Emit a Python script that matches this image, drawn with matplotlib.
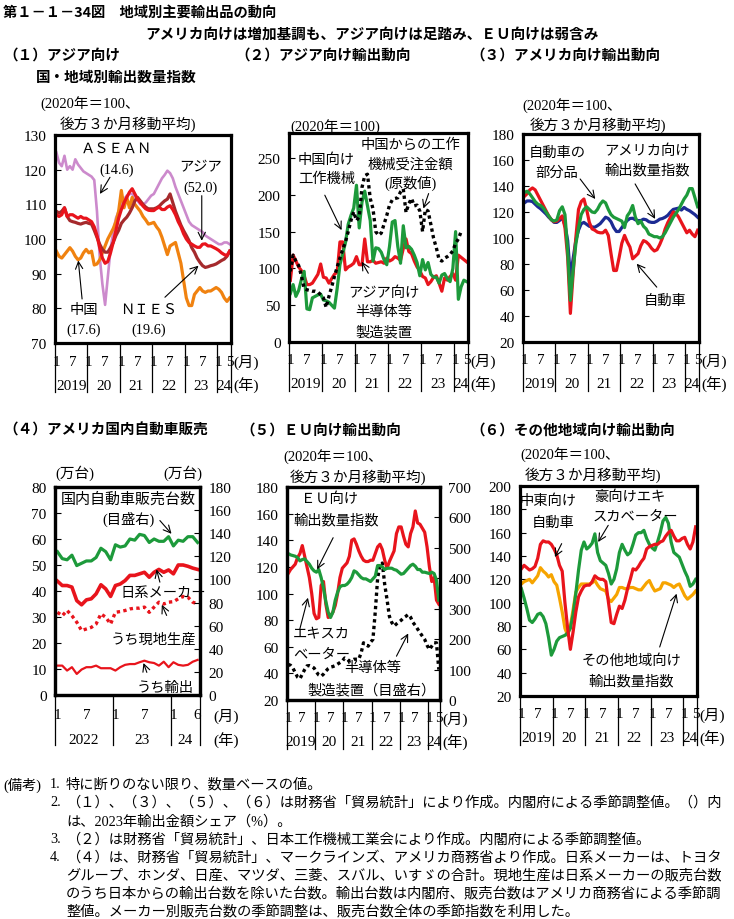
import numpy as np
import matplotlib
matplotlib.use("Agg")
import matplotlib.pyplot as plt
from matplotlib.transforms import blended_transform_factory

# ---------------- data ----------------
# monthly, Jan 2019 .. May 2024 (65 points)
months = np.arange(65)

# (1) Asia by country/region, 2020=100, 3m moving average
asean = [125, 122, 121, 124, 120, 121, 120, 123, 121.5, 120.5, 119.5, 119, 118.5, 118, 117, 108, 95, 87, 81, 89,
         97, 102, 106, 108, 110, 111.5, 112.5, 113, 113, 112, 111, 110, 110, 110.5, 111.5, 112.5, 113, 114.5, 116, 117.5,
         118.5, 119.7, 119, 117.5, 115, 113, 111, 109, 107, 105, 104, 103.5, 103, 102.5, 102, 101, 100.5, 100, 99.5, 99,
         98.5, 98.5, 99, 99, 98.5]
china = [96.5, 95, 94.5, 95.5, 96.5, 97.5, 96.5, 95, 94, 94.5, 96, 97, 96, 96.5, 92.5, 92.8, 94, 96, 98, 100,
         101.5, 103, 105, 108, 114, 109, 112, 109, 112, 110, 109, 108, 106.5, 105.5, 104.3, 104.5, 104.8, 103.5, 102.5, 100.5,
         98, 95.5, 98, 98.5, 99, 96, 93, 88, 83, 80.8, 80.8, 84, 85, 86, 85, 84.6, 85, 85, 85.5, 86,
         85.5, 84.6, 83, 82, 83]
asia = [107, 106.5, 107, 109, 106.5, 107, 107, 106.5, 106, 106.5, 106, 106, 105.5, 105, 103.5, 101, 97.5, 94.5, 93, 93.5,
        96, 99, 102.5, 106, 108.5, 110.5, 112, 113.5, 114.5, 113, 111.5, 110.5, 109.5, 108.7, 108.3, 108.2, 108.2, 108.8, 109.2, 108.5,
        108.5, 109.2, 109.6, 108.5, 107, 105, 103.5, 101.5, 100, 99, 98.5, 98, 97.6, 97.6, 98.5, 98.6, 98, 98, 97.6, 97.2,
        96.7, 96, 95.5, 95.2, 96.5]
nies = [108, 107.5, 108, 109, 106.5, 105.3, 105, 104.8, 104.5, 104.3, 104.6, 104.8, 104.5, 104.3, 102.5, 100.5, 98.5, 97, 96.2, 96.2,
        97.5, 99, 101, 102.5, 104.5, 105.5, 106.3, 107.5, 109, 111, 112, 111, 110, 109.2, 108.7, 108.7, 108.7, 109, 109.5, 110.3,
        111, 111.5, 113, 110.5, 108, 106, 104, 102.4, 101, 99.5, 97.5, 96.2, 94.5, 93.3, 92.3, 91.8, 92, 92.3, 92.5, 92.8,
        93.3, 93.8, 94.2, 95, 96.5]

# (2) exports to Asia, 2020=100
semi_asia = [84, 118, 110, 102, 97, 90, 78, 78, 80, 86, 92, 106, 88, 87, 80, 86, 92, 95, 136, 136,
             98, 102, 104, 107, 116, 105, 105, 140, 109, 109, 111, 107, 108, 109, 107, 114, 110, 112, 116, 114,
             111, 127, 140, 123, 120, 110, 102, 97, 89, 87, 78, 82, 88, 90, 80, 69, 87, 84, 89, 93,
             84, 118, 115, 112, 109]
tools_cn = [66, 78, 62, 70, 85, 96, 45, 44, 60, 62, 64, 65, 57, 56, 54, 50, 46, 73, 105, 120,
            135, 160, 172, 182, 213, 155, 190, 205, 185, 165, 110, 128, 127, 122, 112, 105, 130, 163, 165, 130,
            107, 158, 128, 130, 126, 118, 108, 90, 112, 98, 108, 92, 88, 88, 80, 91, 93, 86, 82, 100,
            150, 58, 75, 84, 82]
orders_cn = [96, 118, 110, 104, 90, 73, 71, 70, 69, 69, 68, 64, 60, 47, 62, 75, 89, 102, 114, 126,
             136, 150, 165, 177, 165, 170, 210, 226, 228, 195, 181, 150, 145, 148, 160, 172, 186, 193, 195, 196,
             204, 208, 176, 188, 195, 185, 186, 178, 150, 180, 178, 160, 141, 128, 112, 110, 114, 116, 119, 124,
             134, 140, 150]

# (3) exports to the US, 2020=100, 3m moving average
us_total = [127, 128.5, 128.5, 128, 126, 124, 122.5, 120.5, 118.5, 116, 114, 112, 112, 113.5, 115.5, 110, 98, 70, 84, 98,
            106, 111, 112, 110.5, 109, 108.5, 108.3, 109.5, 111, 113.5, 116, 115, 112.5, 108, 105, 105, 108, 111, 113.5, 115,
            115.2, 114, 113.4, 113.4, 114.5, 114, 112.5, 112, 112, 113, 114.5, 115, 116, 117.5, 120, 122, 122.5, 123, 121.5, 123.5,
            122, 121, 119.5, 118, 116]
us_cars = [132, 134, 137, 138.5, 137, 133, 129, 125, 121, 117, 114, 112.5, 113, 115, 117, 108, 85, 42, 72, 100,
           122, 128, 130, 122, 112, 107, 106, 104.5, 104, 104, 106, 102, 88, 75, 75, 85, 96, 102, 97, 93,
           84, 86, 88, 94, 98, 97, 95, 92, 90, 91, 95, 100, 107, 112, 116, 120, 119, 116, 112, 108,
           104, 106, 103, 101, 106]
us_parts = [135, 136, 134, 131, 128, 126, 125, 123, 120, 117, 114, 113, 114, 121, 124, 118, 90, 52, 75, 95,
            108, 118, 122, 124, 122, 120, 119.5, 122, 126, 128.5, 127, 122, 118, 116, 115, 114, 113, 108, 117, 120,
            125, 116, 111, 113, 109, 107, 103, 102, 101, 101, 100, 101, 104, 108, 112, 116, 119, 122, 126, 130,
            133, 138, 138, 131, 124]

# (4) US domestic auto sales, Jan 2022 .. Jun 2024 (30 points), 10k units
months4 = np.arange(30)
sales_total = [124, 118, 117, 121, 112, 114, 116, 116, 119, 127, 124, 117, 130, 128, 129, 135, 134, 139, 138, 132,
               135, 133, 133, 137, 129, 134, 133, 137, 137, 132]
jp_makers = [43.8, 42.1, 42.1, 41.5, 36.3, 34.7, 36.6, 37, 38.9, 42.4, 40.8, 37.9, 42.1, 42.7, 44, 46, 46, 46.6, 47.2, 45.3,
             47.2, 48.3, 47.2, 48.1, 46.6, 50, 50, 49.5, 48.8, 48.3]
jp_local = [31.8, 30.5, 32.5, 30.5, 28, 24.8, 25.4, 26, 27.3, 31.2, 29.9, 27.3, 31.8, 32.1, 32.5, 33.1, 33.4, 33.4, 33.8, 31.8,
            33.8, 35.7, 35, 35.7, 35.9, 37, 37.9, 37.6, 35.7, 35]
jp_export = [11.3, 11.3, 9.4, 10.7, 8.1, 9.8, 10.7, 10.7, 11.3, 10.3, 10.3, 10.3, 9.4, 10.7, 11.6, 11.9, 11.9, 12.6, 13.2, 12.6,
             12.3, 11.3, 12.8, 10.7, 12.6, 11.6, 11.3, 11.6, 12.8, 13.5]

# (5) exports to the EU, 2020=100, 3m moving average
eu_total = [130, 129, 128.5, 128, 127, 124.5, 125.5, 126, 124, 122, 119, 117, 116, 118, 112, 104, 94, 86, 82, 86,
            95, 101, 105, 106, 106, 107, 109, 112, 117, 116, 114, 112, 111, 111, 110, 109, 111, 113, 121, 121,
            120, 118, 119, 119, 119, 118, 117.5, 116, 114.5, 115, 117, 119, 121, 122, 120.5, 118, 118, 116, 116, 115.5,
            115, 116, 115, 110, 95]
eu_excav = [115, 118, 120, 122, 127, 130, 136, 128, 120, 112, 100, 85, 81, 82, 106, 109, 92, 82, 83, 86,
            91, 100, 112, 119, 121, 123, 128, 140, 141, 137, 132, 128, 125, 124, 124, 125, 125, 130, 135, 137,
            133, 125, 119, 124, 128, 132, 145, 150, 150, 143, 137, 135, 145, 150, 162, 153, 152, 149, 146, 135,
            120, 109, 112, 95, 92]
eu_semi = [117, 114, 105, 90, 75, 70, 85, 100, 112, 113, 110, 105, 92, 82, 78, 85, 95, 103, 108, 110,
           113, 118, 123, 128, 138, 135, 128, 130, 134, 134, 134, 155, 188, 182, 177, 190, 199, 290, 400, 445,
           450, 380, 330, 275, 255, 243, 250, 256, 262, 270, 275, 281, 272, 255, 245, 233, 221, 210, 199, 180,
           166, 177, 188, 188, 100]

# (6) exports to other regions, 2020=100, 3m moving average
me_cars = [129, 132, 130, 128, 129, 131, 138, 150, 153, 152, 152, 150, 146, 141, 132, 127, 100, 78, 60, 75,
           92, 105, 110, 114, 115, 115, 118, 123, 121, 120, 120, 118, 100, 83, 82, 90, 97, 95, 102, 112,
           120, 129, 128, 131, 135, 138, 146, 148, 149, 150, 150, 152, 153, 157, 160, 162, 157, 153, 153, 155,
           156, 150, 146, 152, 165]
au_excav = [112, 104, 95, 85, 83, 86, 90, 91, 88, 82, 70, 55, 60, 67, 70, 71, 72, 74, 78, 90,
            108, 128, 145, 152, 146, 148, 151, 159, 143, 136, 134, 132, 125, 116, 120, 129, 143, 150, 145, 141,
            143, 150, 158, 160, 160, 162, 155, 150, 147, 145, 152, 160, 170, 173, 168, 152, 143, 141, 139, 133,
            127, 122, 114, 116, 120]
other_total = [116, 118, 119, 120, 117, 120, 123, 130, 127, 125, 122, 124, 118, 115, 104, 92, 78, 72, 80, 94,
               109, 113, 116, 116, 116, 116, 117, 119, 115, 112, 111, 110, 103, 101, 104, 107, 113, 113, 112, 112,
               113, 113, 112, 111, 111, 114, 117, 119, 114, 110, 111, 112, 117, 117, 116, 115, 113, 115, 116, 111,
               106, 103, 105, 107, 110]

# x-axis labels
seps5 = [-0.5, 11.5, 23.5, 35.5, 47.5, 59.5, 64.5]
mlab5 = [(0, '1'), (6, '7'), (12, '1'), (18, '7'), (24, '1'), (30, '7'), (36, '1'), (42, '7'),
         (48, '1'), (54, '7'), (60, '1'), (64, '5')]
ylab5 = [(5.5, '2019'), (17.5, '20'), (29.5, '21'), (41.5, '22'), (53.5, '23'), (62, '24')]
seps4 = [-0.5, 11.5, 23.5, 29.5]
mlab4 = [(0, '1'), (6, '7'), (12, '1'), (18, '7'), (24, '1'), (29, '6')]
ylab4 = [(5.5, '2022'), (17.5, '23'), (26.5, '24')]

# ---------------- style ----------------
plt.rcParams['font.family'] = ['Liberation Serif', 'Noto Sans CJK JP']
GOTH = ['Noto Sans CJK JP', 'DejaVu Sans']
MIN = ['Liberation Serif', 'Noto Sans CJK JP']

RED = '#e8141c'
GREEN = '#1d9a3b'
BLUE = '#1c2b93'
ORANGE = '#f08210'
YELLOW = '#f6a400'
PLUM = '#cc8acc'
BROWN = '#a52a2c'
LW = 2.3
TS = 11      # tick / axis label size

W, H = 734, 920
fig = plt.figure(figsize=(W / 100, H / 100), dpi=100)


def ftext(x, y, s, size=10, family=MIN, **kw):
    fig.text(x / W, 1 - y / H, s, fontsize=size, family=family, va='center', **kw)


def panel(box, ylim, yticks):
    l, t, r, b = box
    ax = fig.add_axes([l / W, 1 - b / H, (r - l) / W, (b - t) / H])
    ax.set_ylim(*ylim)
    ax.set_yticks(yticks)
    ax.set_xticks([])
    for sp in ax.spines.values():
        sp.set_linewidth(2.3)
    ax.tick_params(axis='y', direction='in', length=4, width=0.8, labelsize=TS, pad=6)
    return ax


def time_axis(ax, box, xmax, seps, mlabels, ylabels, mdy=18, ydy=42, depth=49, uoff=2):
    l, t, r, b = box
    h = b - t
    ax.set_xlim(-0.5, xmax + 0.5)
    tr = blended_transform_factory(ax.transData, ax.transAxes)
    for s in seps:
        ax.plot([s, s], [0, -depth / h], transform=tr, color='k', lw=0.9, clip_on=False)
    for x, s in mlabels:
        ax.text(x, -mdy / h, s, transform=tr, ha='center', va='center', fontsize=TS)
    for x, s in ylabels:
        ax.text(x, -ydy / h, s, transform=tr, ha='center', va='center', fontsize=TS)
    ax.text(1 + uoff / (r - l), -mdy / h, '(月)', transform=ax.transAxes, ha='left', va='center', fontsize=TS)
    ax.text(1 + uoff / (r - l), -ydy / h, '(年)', transform=ax.transAxes, ha='left', va='center', fontsize=TS)


def label(ax, x, y, s, size=10.3, **kw):
    ax.text(x, y, s, ha='center', va='center', fontsize=size, family=MIN, **kw)


def arrow(ax, tail, head):
    ax.annotate('', xy=head, xytext=tail,
                arrowprops=dict(arrowstyle='->', color='k', lw=0.8, shrinkA=0, shrinkB=0, mutation_scale=13))


# ---------------- titles ----------------
ftext(3, 13, '第１－１－34図　地域別主要輸出品の動向', size=10.3, family=GOTH, weight='bold')
ftext(372, 34, 'アメリカ向けは増加基調も、アジア向けは足踏み、ＥＵ向けは弱含み', size=10.5, family=GOTH,
      weight='bold', ha='center')
ftext(3, 55, '（１）アジア向け', size=10.5, family=GOTH, weight='bold')
ftext(235, 55, '（２）アジア向け輸出動向', size=10.5, family=GOTH, weight='bold')
ftext(470, 55, '（３）アメリカ向け輸出動向', size=10.5, family=GOTH, weight='bold')
ftext(36, 77, '国・地域別輸出数量指数', size=10.5, family=GOTH, weight='bold')
ftext(3, 430, '（４）アメリカ国内自動車販売', size=10.5, family=GOTH, weight='bold')
ftext(240, 430, '（５）ＥＵ向け輸出動向', size=10.5, family=GOTH, weight='bold')
ftext(470, 430, '（６）その他地域向け輸出動向', size=10.5, family=GOTH, weight='bold')

# units
US = 10.5
ftext(40, 104, '(2020年＝100、', size=US)
ftext(60, 124, '後方３か月移動平均)', size=US)
ftext(290, 127, '(2020年＝100)', size=US)
ftext(522, 106, '(2020年＝100、', size=US)
ftext(530, 125, '後方３か月移動平均)', size=US)
ftext(55, 473, '(万台)', size=US)
ftext(163, 473, '(万台)', size=US)
ftext(283, 457, '(2020年＝100、', size=US)
ftext(290, 477, '後方３か月移動平均)', size=US)
ftext(520, 455, '(2020年＝100、', size=US)
ftext(525, 475, '後方３か月移動平均)', size=US)

# ---------------- (1) ----------------
b1 = (55, 136, 231, 344)
ax1 = panel(b1, (70, 130), range(70, 131, 10))
ax1.plot(months, asean, color=PLUM, lw=1.9)
ax1.plot(months, china, color=ORANGE, lw=LW)
ax1.plot(months, nies, color=BROWN, lw=LW)
ax1.plot(months, asia, color=RED, lw=LW)
time_axis(ax1, b1, 64, seps5, mlab5, ylab5)
label(ax1, 22.3, 126.2, 'ＡＳＥＡＮ')
label(ax1, 22.3, 120.2, '(14.6)')
arrow(ax1, (19.8, 117.8), (16.1, 113))
label(ax1, 53.1, 120.7, 'アジア')
label(ax1, 53.1, 114.9, '(52.0)')
arrow(ax1, (53.7, 112.5), (53.7, 99.5))
label(ax1, 10, 79.8, '中国')
label(ax1, 10, 74, '(17.6)')
arrow(ax1, (9.5, 82.7), (8.1, 93.8))
label(ax1, 34, 79.8, 'ＮＩＥＳ')
label(ax1, 34, 74, '(19.6)')
arrow(ax1, (40.1, 83.2), (52.5, 92.3))

# ---------------- (2) ----------------
b2 = (289, 134, 468, 343)
ax2 = panel(b2, (0, 284), range(0, 251, 50))
ax2.plot(months, semi_asia, color=RED, lw=LW)
ax2.plot(months, tools_cn, color=GREEN, lw=LW)
ax2.plot(np.arange(len(orders_cn)), orders_cn, color='k', lw=2.4, ls=(0, (1, 1.0)))
time_axis(ax2, b2, 64, seps5, mlab5, ylab5)
label(ax2, 13.1, 249, '中国向け')
label(ax2, 13.1, 222, '工作機械')
arrow(ax2, (12.5, 199.5), (18.6, 152))
label(ax2, 43.5, 269, '中国からの工作')
label(ax2, 43.5, 242, '機械受注金額')
label(ax2, 43.5, 217.5, '(原数値)')
arrow(ax2, (50.2, 201.7), (48.3, 181.4))
label(ax2, 33.8, 67.7, 'アジア向け')
label(ax2, 33.8, 41.5, '半導体等')
label(ax2, 33.8, 14.4, '製造装置')
arrow(ax2, (28.3, 93.4), (25.9, 109))

# ---------------- (3) ----------------
b3 = (523, 135, 699, 343)
ax3 = panel(b3, (20, 180), range(20, 181, 20))
ax3.plot(months, us_total, color=BLUE, lw=LW)
ax3.plot(months, us_cars, color=RED, lw=LW)
ax3.plot(months, us_parts, color=GREEN, lw=LW)
time_axis(ax3, b3, 64, seps5, mlab5, ylab5)
label(ax3, 12, 166, '自動車の')
label(ax3, 12, 150.6, '部分品')
arrow(ax3, (20.6, 145.4), (26.2, 130))
label(ax3, 45.2, 167.2, 'アメリカ向け')
label(ax3, 45.2, 152.6, '輸出数量指数')
arrow(ax3, (40.9, 141.6), (48.3, 114.7))
label(ax3, 52, 52, '自動車')
arrow(ax3, (48.9, 62.2), (41.5, 80.2))

# ---------------- (4) ----------------
b4 = (55, 488, 200, 696)
ax4 = panel(b4, (0, 80), range(0, 81, 10))
ax4r = ax4.twinx()
ax4r.set_ylim(0, 180)
ax4r.set_yticks(range(0, 181, 20))
ax4r.tick_params(axis='y', direction='in', length=4, width=0.8, labelsize=TS, pad=6)
for sp in ax4r.spines.values():
    sp.set_linewidth(2.3)
ax4r.plot(months4, sales_total, color=GREEN, lw=LW)
ax4.plot(months4, jp_makers, color=RED, lw=2.6)
ax4.plot(months4, jp_local, color=RED, lw=2.4, ls=(0, (1, 1.0)))
ax4.plot(months4, jp_export, color=RED, lw=1.6)
time_axis(ax4, b4, 29, seps4, mlab4, ylab4, mdy=20, ydy=45, depth=50, uoff=13)
ax4r.set_xlim(-0.5, 29.5)
label(ax4, 14.7, 75.5, '国内自動車販売台数', size=10.8)
label(ax4, 14.7, 67.8, '(目盛右)')
arrow(ax4, (21.2, 67.1), (23.6, 62))
label(ax4, 21.9, 39.5, '日系メーカー')
arrow(ax4, (21.2, 43.4), (20.5, 48.3))
label(ax4, 19.8, 21.6, 'うち現地生産')
arrow(ax4, (22.6, 30.6), (21.6, 34.7))
label(ax4, 22.3, 3, 'うち輸出')
arrow(ax4, (18.5, 8.7), (17.8, 12.3))

# ---------------- (5) ----------------
b5 = (287, 488, 440, 701)
ax5 = panel(b5, (20, 180), range(20, 181, 20))
ax5r = ax5.twinx()
ax5r.set_ylim(0, 700)
ax5r.set_yticks(range(0, 701, 100))
ax5r.tick_params(axis='y', direction='in', length=4, width=0.8, labelsize=TS, pad=6)
for sp in ax5r.spines.values():
    sp.set_linewidth(2.3)
ax5r.plot(months, eu_semi, color='k', lw=2.4, ls=(0, (1, 1.0)))
ax5r.set_xlim(-0.5, 64.5)
ax5.plot(months, eu_excav, color=RED, lw=LW)
ax5.plot(months, eu_total, color=GREEN, lw=LW)
ax5.set_zorder(ax5r.get_zorder() + 1)
ax5.patch.set_visible(False)
time_axis(ax5, b5, 64, seps5, mlab5, ylab5)
label(ax5, 17.7, 171.2, 'ＥＵ向け')
label(ax5, 20.5, 155.7, '輸出数量指数')
arrow(ax5, (19.1, 141.9), (12.3, 118.1))
label(ax5, 14.1, 70.5, 'エキスカ')
label(ax5, 14.1, 54.2, 'ベーター')
arrow(ax5, (4.9, 73), (8.4, 96.8))
label(ax5, 36.1, 44.2, '半導体等')
label(ax5, 35.5, 27.9, '製造装置（目盛右）')
arrow(ax5, (46, 52.9), (51, 70))

# ---------------- (6) ----------------
b6 = (520, 487, 697, 697)
ax6 = panel(b6, (20, 200), range(20, 201, 20))
ax6.plot(months, other_total, color=YELLOW, lw=LW)
ax6.plot(months, au_excav, color=GREEN, lw=LW)
ax6.plot(months, me_cars, color=RED, lw=LW)
time_axis(ax6, b6, 64, seps5, mlab5, ylab5)
label(ax6, 9.9, 187.7, '中東向け')
label(ax6, 11.7, 169.1, '自動車')
arrow(ax6, (14.8, 150.6), (12.3, 139.1))
label(ax6, 39.8, 191.4, '豪向けエキ')
label(ax6, 41.7, 174.3, 'スカベーター')
arrow(ax6, (31.9, 166.3), (28.2, 152))
label(ax6, 40.5, 50.6, 'その他地域向け')
label(ax6, 40.5, 33.4, '輸出数量指数')
arrow(ax6, (50.8, 62), (57, 107.7))

# ---------------- notes ----------------
NS = 10.3
ftext(3, 785, '(備考)', size=NS)
notes = [
    (785, '1.', '特に断りのない限り、数量ベースの値。'),
    (803, '2.', '（１）、（３）、（５）、（６）は財務省「貿易統計」により作成。内閣府による季節調整値。（）内'),
    (822, '', 'は、2023年輸出金額シェア（%）。'),
    (840, '3.', '（２）は財務省「貿易統計」、日本工作機械工業会により作成。内閣府による季節調整値。'),
    (858, '4.', '（４）は、財務省「貿易統計」、マークラインズ、アメリカ商務省より作成。日系メーカーは、トヨタ'),
    (876, '', 'グループ、ホンダ、日産、マツダ、三菱、スバル、いすゞの合計。現地生産は日系メーカーの販売台数'),
    (894, '', 'のうち日本からの輸出台数を除いた台数。輸出台数は内閣府、販売台数はアメリカ商務省による季節調'),
    (912, '', '整値。メーカー別販売台数の季節調整は、販売台数全体の季節指数を利用した。'),
]
for y, num, s in notes:
    if num:
        ftext(50, y, num, size=NS)
    ftext(66, y, s, size=NS)

fig.savefig('out.png', dpi=100)
